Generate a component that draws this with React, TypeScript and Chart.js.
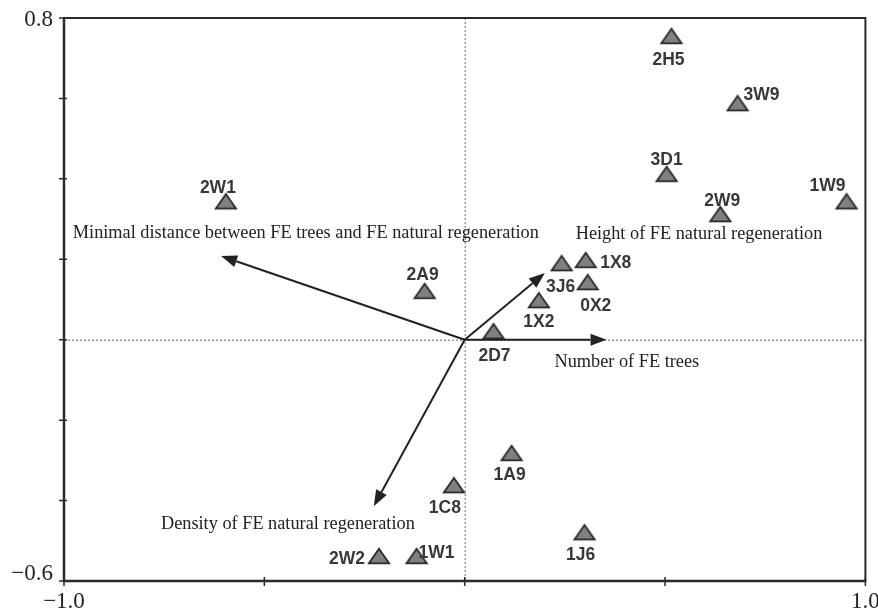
import { useEffect, useRef } from 'react';
import { Chart, registerables } from 'chart.js';

Chart.register(...registerables);

// Site scores (axis 1, axis 2)
const siteNames = ['2W1', '2A9', '2H5', '3W9', '3D1', '2W9', '1W9', '1X8', '3J6', '0X2', '1X2', '2D7', '1A9', '1C8', '1J6', '2W2', '1W1'];
const siteX = [-0.596, -0.1, 0.516, 0.681, 0.504, 0.638, 0.953, 0.302, 0.242, 0.307, 0.185, 0.072, 0.117, -0.027, 0.299, -0.214, -0.12];
const siteY = [0.337, 0.114, 0.748, 0.581, 0.405, 0.305, 0.337, 0.191, 0.183, 0.136, 0.091, 0.014, -0.289, -0.369, -0.486, -0.545, -0.545];
// where each site name sits relative to its marker (px)
const siteLabelDX = [-8, -2, -3, 24, 0, 2, -19, 30, -1, 8, 0, 1, -2, -9, -4, -32, 20];
const siteLabelDY = [-16, -19, 21, -11, -17, -16, -18, 0, 21, 21, 19, 22, 19, 20, 20, 0, -6];

// Environmental vectors
const vectorNames = [
  'Minimal distance between FE trees and FE natural regeneration',
  'Height of FE natural regeneration',
  'Number of FE trees',
  'Density of FE natural regeneration',
];
const vectorX = [-0.608, 0.2, 0.354, -0.227];
const vectorY = [0.208, 0.166, 0, -0.414];
const vectorLabelX = [-0.978, 0.277, 0.224, -0.758];
const vectorLabelY = [0.265, 0.263, -0.055, -0.458];

// Axes
const xMin = -1.0;
const xMax = 1.0;
const yMin = -0.6;
const yMax = 0.8;
const xTickValues = [-1.0, -0.5, 0, 0.5, 1.0];
const yTickValues = [-0.6, -0.4, -0.2, 0, 0.2, 0.4, 0.6, 0.8];
const xLabelValues = [-1.0, 1.0];
const xLabelTexts = ['\u22121.0', '1.0'];
const yLabelValues = [0.8, -0.6];
const yLabelTexts = ['0.8', '\u22120.6'];

const SERIF = "'Liberation Serif', 'Times New Roman', serif";
const SANS = "'Liberation Sans', Arial, sans-serif";

// Slightly flattened grey triangle used as the site marker
function makeMarker(): HTMLCanvasElement {
  const c = document.createElement('canvas');
  c.width = 26;
  c.height = 24;
  const g = c.getContext('2d')!;
  g.beginPath();
  g.moveTo(13, 1.8);
  g.lineTo(23.2, 16.4);
  g.lineTo(2.8, 16.4);
  g.closePath();
  g.fillStyle = '#808080';
  g.fill();
  g.lineWidth = 1.7;
  g.lineJoin = 'miter';
  g.strokeStyle = '#262626';
  g.stroke();
  return c;
}

const backgroundLayer = {
  id: 'backgroundLayer',
  beforeDatasetsDraw(chart: any) {
    const { ctx, chartArea, scales } = chart;
    const xs = scales.x;
    const ys = scales.y;
    const x0 = xs.getPixelForValue(0);
    const y0 = ys.getPixelForValue(0);
    ctx.save();
    // dotted zero lines
    ctx.strokeStyle = '#666';
    ctx.lineWidth = 1;
    ctx.setLineDash([2, 2]);
    ctx.beginPath();
    ctx.moveTo(chartArea.left, y0 + 0.5);
    ctx.lineTo(chartArea.right, y0 + 0.5);
    ctx.moveTo(x0 + 0.5, chartArea.top);
    ctx.lineTo(x0 + 0.5, chartArea.bottom);
    ctx.stroke();
    ctx.setLineDash([]);

    // vectors
    ctx.strokeStyle = '#222';
    ctx.fillStyle = '#222';
    ctx.lineWidth = 2;
    for (let i = 0; i < vectorX.length; i++) {
      const tx = xs.getPixelForValue(vectorX[i]);
      const ty = ys.getPixelForValue(vectorY[i]);
      const ang = Math.atan2(ty - y0, tx - x0);
      const headLen = 16;
      const headHalf = 6;
      const bx = tx - Math.cos(ang) * headLen;
      const by = ty - Math.sin(ang) * headLen;
      ctx.beginPath();
      ctx.moveTo(x0, y0);
      ctx.lineTo(bx, by);
      ctx.stroke();
      ctx.beginPath();
      ctx.moveTo(tx, ty);
      ctx.lineTo(bx + Math.sin(ang) * headHalf, by - Math.cos(ang) * headHalf);
      ctx.lineTo(bx - Math.sin(ang) * headHalf, by + Math.cos(ang) * headHalf);
      ctx.closePath();
      ctx.fill();
    }

    // vector names
    ctx.font = `18.3px ${SERIF}`;
    ctx.fillStyle = '#222';
    ctx.textAlign = 'left';
    ctx.textBaseline = 'middle';
    for (let i = 0; i < vectorNames.length; i++) {
      ctx.fillText(vectorNames[i], xs.getPixelForValue(vectorLabelX[i]), ys.getPixelForValue(vectorLabelY[i]));
    }
    ctx.restore();
  },
  afterDatasetsDraw(chart: any) {
    const { ctx, chartArea, scales } = chart;
    const xs = scales.x;
    const ys = scales.y;
    ctx.save();

    // site names
    ctx.font = `bold 17.5px ${SANS}`;
    ctx.fillStyle = '#383838';
    ctx.textAlign = 'center';
    ctx.textBaseline = 'middle';
    for (let i = 0; i < siteNames.length; i++) {
      const px = xs.getPixelForValue(siteX[i]);
      const py = ys.getPixelForValue(siteY[i]);
      ctx.fillText(siteNames[i], px + siteLabelDX[i], py + siteLabelDY[i]);
    }

    // frame
    const { left, right, top, bottom } = chartArea;
    ctx.strokeStyle = '#2b2b2b';
    ctx.lineWidth = 2;
    ctx.strokeRect(left, top, right - left, bottom - top);
    ctx.lineWidth = 2.5;
    ctx.beginPath();
    ctx.moveTo(left, top);
    ctx.lineTo(left, bottom);
    ctx.lineTo(right, bottom);
    ctx.stroke();

    // tick marks
    ctx.lineWidth = 1.5;
    ctx.beginPath();
    for (const v of xTickValues) {
      const px = xs.getPixelForValue(v);
      ctx.moveTo(px, bottom - 4);
      ctx.lineTo(px, bottom + 5);
    }
    for (const v of yTickValues) {
      const py = ys.getPixelForValue(v);
      ctx.moveTo(left - 5, py);
      ctx.lineTo(left + 3, py);
    }
    ctx.stroke();

    // tick labels
    ctx.font = `23px ${SERIF}`;
    ctx.fillStyle = '#222';
    ctx.textBaseline = 'middle';
    ctx.textAlign = 'right';
    for (let i = 0; i < yLabelValues.length; i++) {
      const py = ys.getPixelForValue(yLabelValues[i]);
      const shift = i === 0 ? 2 : -7;
      ctx.fillText(yLabelTexts[i], left - 11, py + shift);
    }
    ctx.textAlign = 'center';
    for (let i = 0; i < xLabelValues.length; i++) {
      const px = xs.getPixelForValue(xLabelValues[i]);
      ctx.fillText(xLabelTexts[i], px, bottom + 21);
    }
    ctx.restore();
  },
};

export default function App() {
  const canvasRef = useRef<HTMLCanvasElement | null>(null);

  useEffect(() => {
    document.body.style.margin = '0';
    const canvas = canvasRef.current;
    if (!canvas) return;
    const marker = makeMarker();
    const chart = new Chart(canvas, {
      type: 'scatter',
      data: {
        datasets: [
          {
            label: 'Sites',
            data: siteX.map((x, i) => ({ x, y: siteY[i] })),
            pointStyle: marker,
            pointRadius: 11,
            pointHoverRadius: 11,
            backgroundColor: '#808080',
            borderColor: '#262626',
            borderWidth: 1.6,
          },
        ],
      },
      options: {
        responsive: false,
        animation: false,
        devicePixelRatio: 1,
        events: [],
        layout: { padding: { left: 64, top: 18, right: 12, bottom: 31 } },
        plugins: {
          legend: { display: false },
          tooltip: { enabled: false },
        },
        scales: {
          x: { type: 'linear', min: xMin, max: xMax, display: false },
          y: { type: 'linear', min: yMin, max: yMax, display: false },
        },
      },
      plugins: [backgroundLayer],
    });
    return () => chart.destroy();
  }, []);

  return (
    <div style={{ position: 'absolute', left: 0, top: 0, width: 878, height: 612, background: '#fff' }}>
      <canvas ref={canvasRef} width={878} height={612} />
    </div>
  );
}
